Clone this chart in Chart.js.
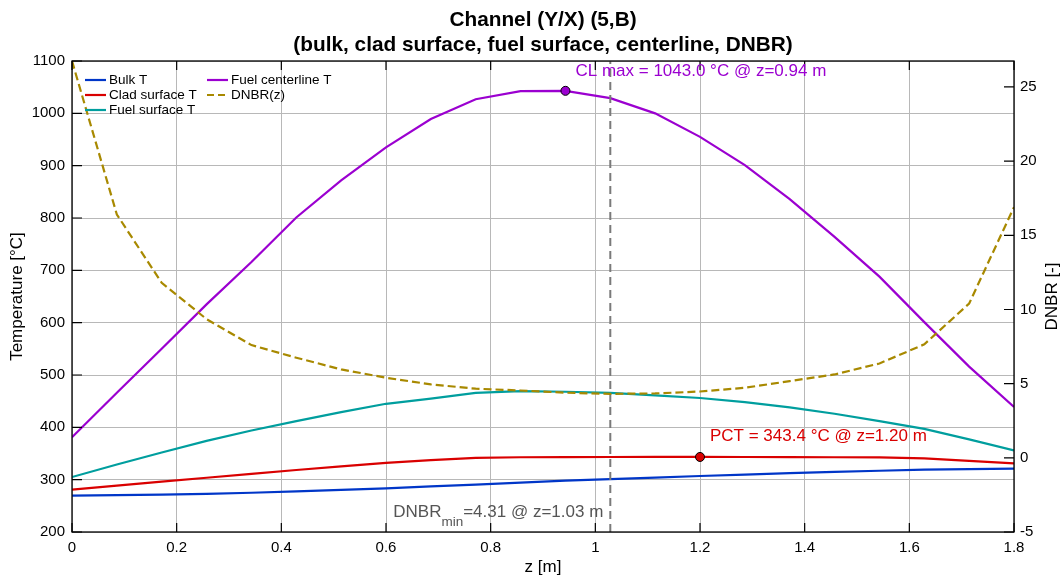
<!DOCTYPE html>
<html>
<head>
<meta charset="utf-8">
<script src="https://cdn.jsdelivr.net/npm/chart.js@4.4.1/dist/chart.umd.min.js"></script>
<style>
  html, body { margin: 0; padding: 0; background: #fff; }
  #wrap { width: 1063px; height: 578px; }
</style>
</head>
<body>
<div id="wrap"><canvas id="chart" width="1063" height="578"></canvas></div>
<script>
// ---------- DATA ----------
const zPos = [0, 0.0857, 0.1714, 0.2571, 0.3429, 0.4286, 0.5143, 0.6, 0.6857, 0.7714, 0.8571,
  0.9429, 1.0286, 1.1143, 1.2, 1.2857, 1.3714, 1.4571, 1.5429, 1.6286, 1.7143, 1.8];

const bulkT = [269.5, 270.5, 271.5, 273, 275, 277.5, 280.5, 283.5, 287, 290.5, 294.5,
  298, 301, 304, 307, 309.7, 312.5, 314.8, 317, 319, 320.3, 321.2];
const cladT = [281, 288.7, 296.3, 303.7, 311, 318.5, 325.5, 332, 337.5, 341.5, 342.8,
  343.2, 343.3, 343.4, 343.4, 343.3, 343.1, 342.8, 342.5, 340.5, 336, 331];
const fuelSurfT = [305, 329, 352, 374, 394, 412, 429, 445, 455, 466, 469,
  468, 466, 461, 456, 448, 438, 426, 412, 397, 377, 356];
const centerT = [381, 466, 550, 635, 716, 801, 872, 935, 989, 1027, 1042.5,
  1043, 1029, 1000, 955, 901, 836, 764, 688, 601, 516, 439];
const dnbr = [26.75, 16.4, 11.8, 9.35, 7.6, 6.75, 5.96, 5.4, 4.95, 4.66, 4.54,
  4.39, 4.31, 4.34, 4.47, 4.72, 5.17, 5.62, 6.36, 7.65, 10.4, 16.9];

const clMax = { z: 0.9429, t: 1043.0 };
const pct = { z: 1.2, t: 343.4 };
const dnbrMinZ = 1.0286;

const xTicks = { min: 0, max: 1.8, step: 0.2 };
const tTicks = { min: 200, max: 1100, step: 100 };
const dTicks = { min: -5, max: 26.75, step: 5 };

const titleLines = ['Channel (Y/X) (5,B)', '(bulk, clad surface, fuel surface, centerline, DNBR)'];

// ---------- STYLE ----------
const FONT = '"Liberation Sans", Arial, sans-serif';
const C = {
  bulk: '#0036c8', clad: '#d90000', fuelSurf: '#009e9e', center: '#9b00d0',
  dnbr: '#a88900', vline: '#7a7a7a', grid: '#b8b8b8', text: '#555555'
};

const pts = (ys) => zPos.map((z, i) => ({ x: z, y: ys[i] }));

// ---------- OVERLAY (titles, legend, box, inward ticks, annotations) ----------
const overlay = {
  id: 'overlay',
  afterDraw(chart) {
    const { ctx, chartArea: a, scales } = chart;
    const xs = scales.x, ys = scales.y, ds = scales.y2;
    ctx.save();

    // frame
    ctx.strokeStyle = '#000';
    ctx.lineWidth = 1.3;
    ctx.strokeRect(a.left, a.top, a.right - a.left, a.bottom - a.top);

    // inward ticks
    ctx.lineWidth = 1.2;
    ctx.beginPath();
    xs.ticks.forEach(t => {
      const px = xs.getPixelForValue(t.value);
      ctx.moveTo(px, a.bottom); ctx.lineTo(px, a.bottom - 9);
      ctx.moveTo(px, a.top); ctx.lineTo(px, a.top + 9);
    });
    ys.ticks.forEach(t => {
      const py = ys.getPixelForValue(t.value);
      ctx.moveTo(a.left, py); ctx.lineTo(a.left + 10, py);
    });
    ds.ticks.forEach(t => {
      const py = ds.getPixelForValue(t.value);
      ctx.moveTo(a.right, py); ctx.lineTo(a.right - 10, py);
    });
    ctx.stroke();

    // title
    ctx.fillStyle = '#000';
    ctx.textAlign = 'center';
    ctx.textBaseline = 'middle';
    ctx.font = `bold 20.8px ${FONT}`;
    const cx = (a.left + a.right) / 2;
    ctx.fillText(titleLines[0], cx, 20);
    ctx.fillText(titleLines[1], cx, 45);

    // axis titles
    ctx.font = `17px ${FONT}`;
    ctx.fillText('z [m]', cx, 567);
    const cy = (a.top + a.bottom) / 2;
    ctx.save();
    ctx.translate(17, cy); ctx.rotate(-Math.PI / 2);
    ctx.fillText('Temperature [°C]', 0, 0);
    ctx.restore();
    ctx.save();
    ctx.translate(1052, cy); ctx.rotate(-Math.PI / 2);
    ctx.fillText('DNBR [-]', 0, 0);
    ctx.restore();

    // legend
    const legend = [
      ['Bulk T', C.bulk, false, 0, 0], ['Clad surface T', C.clad, false, 0, 1],
      ['Fuel surface T', C.fuelSurf, false, 0, 2], ['Fuel centerline T', C.center, false, 1, 0],
      ['DNBR(z)', C.dnbr, true, 1, 1]
    ];
    ctx.font = `13.5px ${FONT}`;
    ctx.textAlign = 'left';
    legend.forEach(([label, col, dashed, c, r]) => {
      const lx = a.left + 13 + c * 122;
      const ly = a.top + 19 + r * 15;
      ctx.strokeStyle = col;
      ctx.lineWidth = 2.2;
      ctx.setLineDash(dashed ? [7, 4] : []);
      ctx.beginPath(); ctx.moveTo(lx, ly); ctx.lineTo(lx + 21, ly); ctx.stroke();
      ctx.setLineDash([]);
      ctx.fillStyle = '#000';
      ctx.fillText(label, lx + 24, ly);
    });

    // annotations
    ctx.font = `17px ${FONT}`;
    ctx.fillStyle = C.center;
    ctx.fillText(`CL max = ${clMax.t.toFixed(1)} °C @ z=${clMax.z.toFixed(2)} m`,
      xs.getPixelForValue(clMax.z) + 10, ys.getPixelForValue(clMax.t) - 20);
    ctx.fillStyle = C.clad;
    ctx.fillText(`PCT = ${pct.t.toFixed(1)} °C @ z=${pct.z.toFixed(2)} m`,
      xs.getPixelForValue(pct.z) + 10, ys.getPixelForValue(pct.t) - 20.5);

    const minVal = Math.min(...dnbr);
    const parts = [['DNBR', 17, 0], ['min', 13.5, 10], [`=${minVal.toFixed(2)} @ z=${dnbrMinZ.toFixed(2)} m`, 17, 0]];
    let total = 0;
    parts.forEach(p => { ctx.font = `${p[1]}px ${FONT}`; total += ctx.measureText(p[0]).width; });
    let tx = xs.getPixelForValue(dnbrMinZ) - 7 - total;
    ctx.fillStyle = C.text;
    parts.forEach(p => {
      ctx.font = `${p[1]}px ${FONT}`;
      ctx.fillText(p[0], tx, a.bottom - 20 + p[2]);
      tx += ctx.measureText(p[0]).width;
    });

    ctx.restore();
  }
};

// ---------- CHART ----------
const tickFont = { family: FONT, size: 15 };

new Chart(document.getElementById('chart').getContext('2d'), {
  type: 'line',
  data: {
    datasets: [
      { label: 'Bulk T', data: pts(bulkT), borderColor: C.bulk, yAxisID: 'y', order: 6 },
      { label: 'Clad surface T', data: pts(cladT), borderColor: C.clad, yAxisID: 'y', order: 5 },
      { label: 'Fuel surface T', data: pts(fuelSurfT), borderColor: C.fuelSurf, yAxisID: 'y', order: 4 },
      { label: 'Fuel centerline T', data: pts(centerT), borderColor: C.center, yAxisID: 'y', order: 3 },
      { label: 'DNBR min line', data: [{ x: dnbrMinZ, y: tTicks.min }, { x: dnbrMinZ, y: tTicks.max }],
        borderColor: C.vline, borderDash: [8, 5], borderWidth: 2, yAxisID: 'y', order: 2 },
      { label: 'DNBR(z)', data: pts(dnbr), borderColor: C.dnbr, borderDash: [8, 4], yAxisID: 'y2', order: 1 },
      { label: 'CL max', data: [{ x: clMax.z, y: clMax.t }], showLine: false, pointRadius: 4.5,
        pointBackgroundColor: C.center, pointBorderColor: '#000', pointBorderWidth: 1, yAxisID: 'y', order: 0 },
      { label: 'PCT', data: [{ x: pct.z, y: pct.t }], showLine: false, pointRadius: 4.5,
        pointBackgroundColor: C.clad, pointBorderColor: '#000', pointBorderWidth: 1, yAxisID: 'y', order: 0 }
    ]
  },
  options: {
    responsive: false,
    animation: false,
    layout: { padding: { top: 61, left: 0, right: 0, bottom: 0 } },
    elements: {
      line: { borderWidth: 2.2, tension: 0, fill: false },
      point: { radius: 0 }
    },
    plugins: { legend: { display: false }, tooltip: { enabled: false }, title: { display: false } },
    scales: {
      x: {
        type: 'linear', position: 'bottom', min: xTicks.min, max: xTicks.max,
        ticks: { stepSize: xTicks.step, font: tickFont, color: '#000', padding: 7, maxRotation: 0,
          callback: v => String(+v.toFixed(1)) },
        grid: { color: C.grid, lineWidth: 1, drawTicks: false },
        border: { display: false },
        afterFit: s => { s.height = 46; }
      },
      y: {
        position: 'left', min: tTicks.min, max: tTicks.max,
        ticks: { stepSize: tTicks.step, font: tickFont, color: '#000', padding: 7,
          callback: v => String(v) },
        grid: { color: C.grid, lineWidth: 1, drawTicks: false },
        border: { display: false },
        afterFit: s => { s.width = 72; }
      },
      y2: {
        position: 'right', min: dTicks.min, max: dTicks.max,
        ticks: { stepSize: dTicks.step, font: tickFont, color: '#000', padding: 6, includeBounds: false,
          callback: v => String(v) },
        grid: { display: false, drawTicks: false },
        border: { display: false },
        afterFit: s => { s.width = 49; }
      }
    }
  },
  plugins: [overlay]
});
</script>
</body>
</html>
